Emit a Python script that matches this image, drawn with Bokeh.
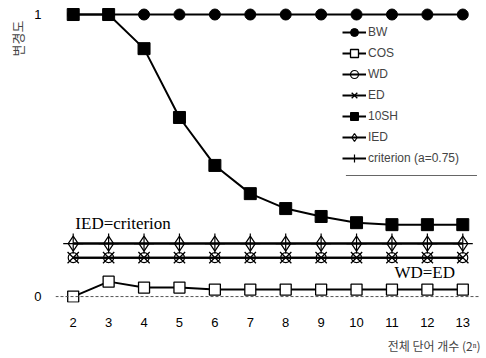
from bokeh.plotting import figure
from bokeh.models import (Range1d, FixedTicker, Legend, LegendItem, Label, Span,
                          Title, BoxAnnotation)
from bokeh.embed import file_html
from bokeh.resources import INLINE

# number of words, as a power of two (2^n)
n_words = [2, 3, 4, 5, 6, 7, 8, 9, 10, 11, 12, 13]

bw = [1.0, 1.0, 1.0, 1.0, 1.0, 1.0, 1.0, 1.0, 1.0, 1.0, 1.0, 1.0]
cos = [0.0, 0.053, 0.032, 0.032, 0.025, 0.025, 0.025, 0.025, 0.025, 0.025, 0.025, 0.025]
wd = [0.138, 0.138, 0.138, 0.138, 0.138, 0.138, 0.138, 0.138, 0.138, 0.138, 0.138, 0.138]
ed = [0.138, 0.138, 0.138, 0.138, 0.138, 0.138, 0.138, 0.138, 0.138, 0.138, 0.138, 0.138]
sh10 = [1.0, 1.0, 0.879, 0.635, 0.465, 0.365, 0.312, 0.284, 0.262, 0.255, 0.255, 0.255]
ied = [0.188, 0.188, 0.188, 0.188, 0.188, 0.188, 0.188, 0.188, 0.188, 0.188, 0.188, 0.188]
criterion = [0.188, 0.188, 0.188, 0.188, 0.188, 0.188, 0.188, 0.188, 0.188, 0.188, 0.188, 0.188]

y_ticks = [0, 1]

SANS = "Liberation Sans"
SERIF = "Liberation Serif"
KR = "Noto Sans CJK KR"

p = figure(width=486, height=358, output_backend="svg", toolbar_location=None,
           x_range=Range1d(1.5, 13.5), y_range=Range1d(-0.021, 1.032),
           min_border_left=50, min_border_right=6, min_border_top=5,
           min_border_bottom=56)
p.outline_line_color = None
p.grid.visible = False

# axes: labels only, no lines or tick marks
p.xaxis.ticker = FixedTicker(ticks=n_words)
p.yaxis.ticker = FixedTicker(ticks=y_ticks)
for ax in (p.xaxis[0], p.yaxis[0]):
    ax.axis_line_color = None
    ax.major_tick_line_color = None
    ax.minor_tick_line_color = None
    ax.major_label_text_font = SANS
    ax.major_label_text_font_size = "13px"
    ax.major_label_text_color = "black"
p.xaxis.major_label_standoff = 9
p.yaxis.major_label_standoff = 8

# dotted baseline at zero
p.add_layout(Span(location=0, dimension="width", line_color="#555555",
                  line_width=1, line_dash="3 2"))

black = "black"
lw = 2

r_bw_l = p.line(n_words, bw, line_color=black, line_width=lw)
r_bw_m = p.scatter(n_words, bw, marker="circle", size=11, fill_color=black, line_color=black)

r_cos_l = p.line(n_words, cos, line_color=black, line_width=lw)
r_cos_m = p.scatter(n_words, cos, marker="square", size=11, fill_color="white",
                    line_color=black, line_width=1.3)

r_wd_l = p.line(n_words, wd, line_color=black, line_width=lw)
r_wd_m = p.scatter(n_words, wd, marker="circle", size=10, fill_color=None,
                   line_color=black, line_width=1.2)

r_ed_l = p.line(n_words, ed, line_color=black, line_width=lw)
r_ed_m = p.scatter(n_words, ed, marker="x", size=16, line_color=black, line_width=1.3)

r_sh_l = p.line(n_words, sh10, line_color=black, line_width=lw)
r_sh_m = p.scatter(n_words, sh10, marker="square", size=12, fill_color=black, line_color=black)

r_ied_l = p.line(n_words, ied, line_color=black, line_width=lw)
r_ied_m = p.scatter(n_words, ied, marker="diamond", size=15, fill_color=None,
                    line_color=black, line_width=1.2)

r_cr_l = p.line(n_words, criterion, line_color=black, line_width=lw)
r_cr_m = p.scatter(n_words, criterion, marker="cross", size=20, line_color=black,
                   line_width=1.2)

legend = Legend(items=[
    LegendItem(label="BW", renderers=[r_bw_l, r_bw_m]),
    LegendItem(label="COS", renderers=[r_cos_l, r_cos_m]),
    LegendItem(label="WD", renderers=[r_wd_l, r_wd_m]),
    LegendItem(label="ED", renderers=[r_ed_l, r_ed_m]),
    LegendItem(label="10SH", renderers=[r_sh_l, r_sh_m]),
    LegendItem(label="IED", renderers=[r_ied_l, r_ied_m]),
    LegendItem(label="criterion (a=0.75)", renderers=[r_cr_l, r_cr_m]),
], location=(287, 134), border_line_color=None, background_fill_alpha=0,
    padding=0, margin=0, spacing=1, glyph_width=24, glyph_height=20,
    label_height=20, label_standoff=2, label_text_font=SANS,
    label_text_font_size="12px")
p.add_layout(legend)

# rule beneath the legend
p.add_layout(BoxAnnotation(left=9.7, right=13.4, bottom=0.428, top=0.431,
                           fill_color="#333333", fill_alpha=1, line_color=None))

p.add_layout(Label(x=2.06, y=0.226, text="IED=criterion", text_font=SERIF,
                   text_font_size="17px", text_color=black))
p.add_layout(Label(x=11.07, y=0.05, text="WD=ED", text_font=SERIF,
                   text_font_size="17px", text_color=black))

p.add_layout(Title(text="변경도", align="right", text_font=KR, text_font_size="13px",
                   text_font_style="normal", offset=15), "left")
p.add_layout(Title(text="전체 단어 개수 (2ⁿ)", align="right", text_font=KR,
                   text_font_size="12px", text_font_style="normal"), "below")

open("out.html", "w").write(file_html(p, INLINE))
